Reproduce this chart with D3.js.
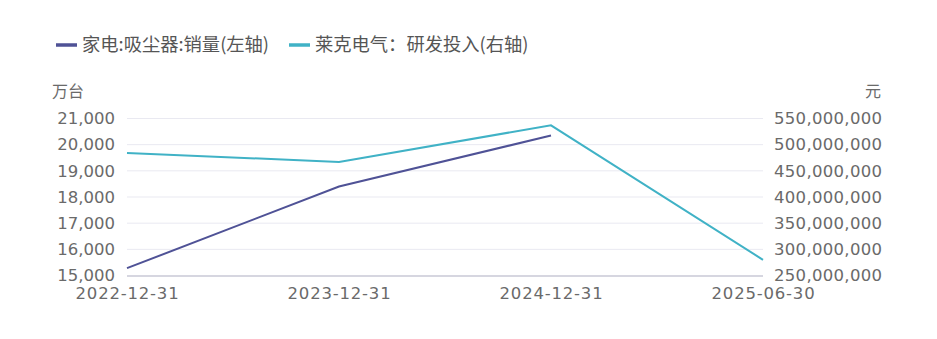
<!DOCTYPE html>
<html>
<head>
<meta charset="utf-8">
<script src="https://cdn.jsdelivr.net/npm/d3@7/dist/d3.min.js"></script>
<style>
  html, body { margin: 0; padding: 0; background: #fff; }
  svg { display: block; }
  text { font-family: "DejaVu Sans", "Noto Sans CJK SC", sans-serif; }
</style>
</head>
<body>
<svg id="chart" width="937" height="339"></svg>
<script>
const categories = ["2022-12-31", "2023-12-31", "2024-12-31", "2025-06-30"];
const seriesNames = ["家电:吸尘器:销量(左轴)", "莱克电气：研发投入(右轴)"];
const salesValues = [15280, 18400, 20350, null];           // 万台
const rdValues = [484000000, 467000000, 537000000, 280000000]; // 元
const leftTicks = [15000, 16000, 17000, 18000, 19000, 20000, 21000];
const rightTicks = [250000000, 300000000, 350000000, 400000000, 450000000, 500000000, 550000000];
const leftUnit = "万台";
const rightUnit = "元";
const colors = ["#4f5296", "#40b2c6"];

(function () {
const svg = d3.select("#chart");
const pLeft = 127, pRight = 763, pTop = 118.5, pBottom = 275.5;

const x = d3.scalePoint().domain(categories).range([pLeft, pRight]);
const yL = d3.scaleLinear().domain([15000, 21000]).range([pBottom, pTop]);
const yR = d3.scaleLinear().domain([250000000, 550000000]).range([pBottom, pTop]);
const fmt = d3.format(",");
const tickColor = "#6a6a6a";

// gridlines
svg.append("g").selectAll("line").data(leftTicks.slice(1)).join("line")
  .attr("x1", pLeft).attr("x2", pRight)
  .attr("y1", d => yL(d)).attr("y2", d => yL(d))
  .attr("stroke", "#e9e9f1").attr("stroke-width", 1);

// left axis
const gL = svg.append("g").attr("transform", `translate(${pLeft},0)`)
  .call(d3.axisLeft(yL).tickValues(leftTicks).tickFormat(fmt).tickSize(0).tickPadding(12));
gL.select(".domain").remove();
gL.selectAll("text").attr("fill", tickColor).style("font-size", "16.5px")
  .style("font-family", '"DejaVu Sans", sans-serif');

// right axis
const gR = svg.append("g").attr("transform", `translate(${pRight},0)`)
  .call(d3.axisRight(yR).tickValues(rightTicks).tickFormat(fmt).tickSize(0).tickPadding(11));
gR.select(".domain").remove();
gR.selectAll("text").attr("fill", tickColor).style("font-size", "16.5px")
  .style("letter-spacing", "0.3px")
  .style("font-family", '"DejaVu Sans", sans-serif');

// bottom axis
const gB = svg.append("g").attr("transform", `translate(0,${pBottom})`)
  .call(d3.axisBottom(x).tickSize(0).tickPadding(12));
gB.select(".domain").attr("d", `M${pLeft},0.5H${pRight}`).attr("stroke", "#c9c9d6").attr("stroke-width", 1.5);
gB.selectAll("text").attr("fill", tickColor).style("font-size", "16.5px")
  .style("letter-spacing", "0.8px")
  .style("font-family", '"DejaVu Sans", sans-serif');

// units
svg.append("text").attr("x", 52).attr("y", 97).attr("fill", tickColor)
  .style("font-size", "16px").style("font-family", '"Noto Sans CJK SC", sans-serif').text(leftUnit);
svg.append("text").attr("x", 881).attr("y", 97).attr("fill", tickColor).attr("text-anchor", "end")
  .style("font-size", "16px").style("font-family", '"Noto Sans CJK SC", sans-serif').text(rightUnit);

// lines
const lineL = d3.line().defined(d => d.v != null).x(d => x(d.c)).y(d => yL(d.v));
const lineR = d3.line().defined(d => d.v != null).x(d => x(d.c)).y(d => yR(d.v));
svg.append("path").datum(categories.map((c, i) => ({c, v: salesValues[i]})))
  .attr("d", lineL).attr("fill", "none").attr("stroke", colors[0]).attr("stroke-width", 2);
svg.append("path").datum(categories.map((c, i) => ({c, v: rdValues[i]})))
  .attr("d", lineR).attr("fill", "none").attr("stroke", colors[1]).attr("stroke-width", 2);

// legend
const legendX = [56, 289];
const lg = svg.append("g");
seriesNames.forEach((name, i) => {
  const g = lg.append("g").attr("transform", `translate(${legendX[i]},45)`);
  g.append("line").attr("x1", 0).attr("x2", 21).attr("y1", 0).attr("y2", 0)
    .attr("stroke", colors[i]).attr("stroke-width", 3.5);
  g.append("text").attr("x", 26).attr("y", 0).attr("dy", "0.35em").attr("fill", "#555")
    .style("font-size", "18.3px").style("font-family", '"Noto Sans CJK SC", sans-serif').text(name);
});
})();
</script>
</body>
</html>
